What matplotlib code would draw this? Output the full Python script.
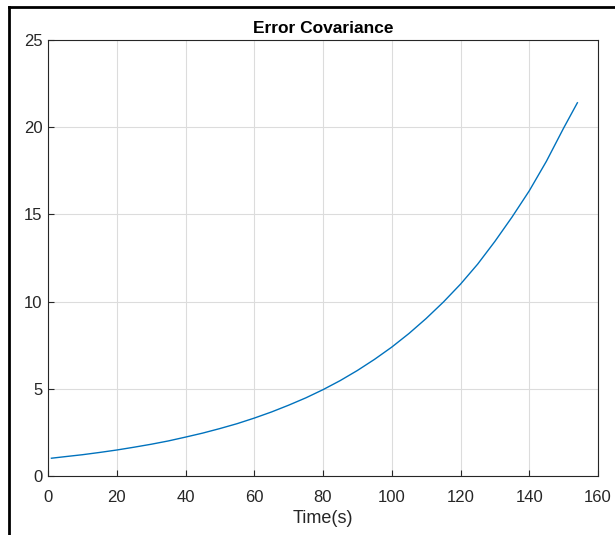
import matplotlib
matplotlib.use("Agg")
import matplotlib.pyplot as plt
from matplotlib.lines import Line2D

# values
time_s = [1, 5, 10, 15, 20, 25, 30, 35, 40, 45, 50, 55, 60, 65, 70, 75, 80, 85, 90, 95,
          100, 105, 110, 115, 120, 125, 130, 135, 140, 145, 150, 154]
error_cov = [1.02, 1.11, 1.22, 1.35, 1.49, 1.65, 1.82, 2.01, 2.23, 2.46, 2.72, 3.0,
             3.32, 3.67, 4.06, 4.48, 4.95, 5.47, 6.05, 6.69, 7.39, 8.17, 9.03, 9.97,
             11.0, 12.15, 13.45, 14.85, 16.35, 18.05, 19.95, 21.4]
x_ticks = [0, 20, 40, 60, 80, 100, 120, 140, 160]
y_ticks = [0, 5, 10, 15, 20, 25]

plt.rcParams['font.family'] = ['Liberation Sans', 'DejaVu Sans']

fig = plt.figure(figsize=(6.15, 5.35), dpi=100)
ax = fig.add_axes([48 / 615, 1 - 476 / 535, 550 / 615, 436 / 535])

ax.plot(time_s, error_cov, color='#0072BD', linewidth=1.0)
ax.set_xlim(0, 160)
ax.set_ylim(0, 25)
ax.set_xticks(x_ticks)
ax.set_yticks(y_ticks)
ax.tick_params(direction='in', length=4, labelsize=12, colors='#262626')
ax.tick_params(axis='x', pad=10)
ax.tick_params(axis='y', pad=4)
ax.grid(True, color='#dcdcdc', linewidth=0.8)
for s in ax.spines.values():
    s.set_color('#262626')
    s.set_linewidth(0.8)

ax.set_xlabel('Time(s)', fontsize=13, color='#262626', labelpad=4)
ax.set_title('Error Covariance', fontsize=12.5, fontweight='bold', pad=5)

# black frame lines on the left and top of the figure
fig.add_artist(Line2D([9 / 615, 9 / 615], [0, 1 - 7 / 535], transform=fig.transFigure,
                      color='black', linewidth=2))
fig.add_artist(Line2D([9 / 615, 1], [1 - 7 / 535, 1 - 7 / 535], transform=fig.transFigure,
                      color='black', linewidth=2))

fig.savefig('out.png', dpi=100)
